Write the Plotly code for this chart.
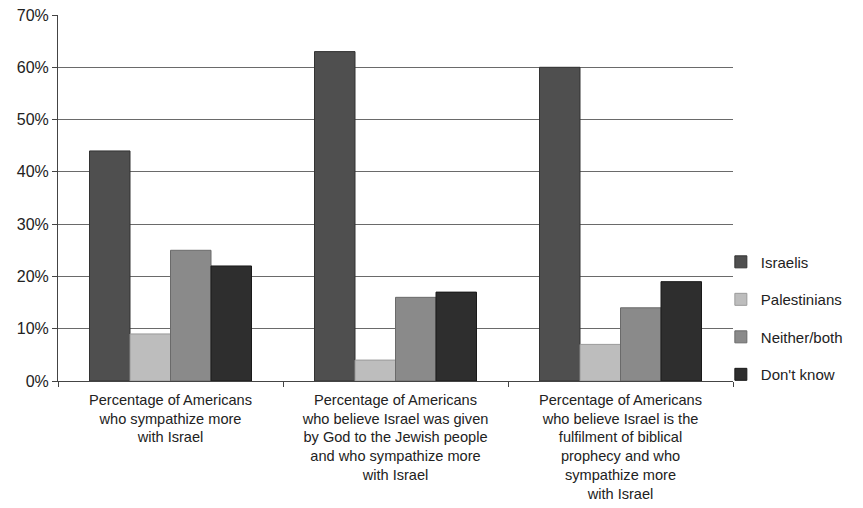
import plotly.graph_objects as go

categories = [
    "Percentage of Americans<br>who sympathize more<br>with Israel",
    "Percentage of Americans<br>who believe Israel was given<br>by God to the Jewish people<br>and who sympathize more<br>with Israel",
    "Percentage of Americans<br>who believe Israel is the<br>fulfilment of biblical<br>prophecy and who<br>sympathize more<br>with Israel",
]
series_names = ["Israelis", "Palestinians", "Neither/both", "Don't know"]
israelis = [44, 63, 60]
palestinians = [9, 4, 7]
neither = [25, 16, 14]
dont_know = [22, 17, 19]
tick_vals = [0, 10, 20, 30, 40, 50, 60, 70]
tick_text = ["0%", "10%", "20%", "30%", "40%", "50%", "60%", "70%"]

colors = ["#4f4f4f", "#bdbdbd", "#8a8a8a", "#2e2e2e"]
outlines = ["#333333", "#9a9a9a", "#6a6a6a", "#1a1a1a"]

fig = go.Figure()
for i, (name, vals) in enumerate(zip(series_names, [israelis, palestinians, neither, dont_know])):
    fig.add_trace(go.Bar(
        x=categories, y=vals, name=name, legendgroup=name,
        marker=dict(color=colors[i], line=dict(color=outlines[i], width=1)),
    ))

fig.update_layout(
    width=863, height=508,
    margin=dict(l=58, r=130, t=15, b=127, autoexpand=False),
    paper_bgcolor="white", plot_bgcolor="white",
    barmode="group", bargap=0.28, bargroupgap=0,
    font=dict(family="Liberation Sans, Arial, sans-serif", color="#222222"),
    legend=dict(
        x=0.982, y=0.37, xanchor="left", yanchor="top",
        font=dict(size=15, color="#222222"),
        tracegroupgap=15, itemwidth=30,
        bgcolor="rgba(0,0,0,0)",
    ),
    showlegend=True,
)
fig.update_yaxes(
    range=[0, 70], tickvals=tick_vals, ticktext=tick_text,
    showgrid=True, gridcolor="#6a6a6a", gridwidth=1,
    showline=True, linecolor="#444444", linewidth=1,
    ticks="outside", ticklen=5, tickcolor="#444444",
    tickfont=dict(size=16, color="#222222"),
    zeroline=False,
)
fig.update_xaxes(
    showline=True, linecolor="#444444", linewidth=1,
    ticks="outside", tickson="boundaries", ticklen=5, tickcolor="#444444",
    tickfont=dict(size=14.6, family="Liberation Sans, Arial, sans-serif", color="#222222"),
    tickangle=0, ticklabelstandoff=5,
)

fig.write_html("out.html")
